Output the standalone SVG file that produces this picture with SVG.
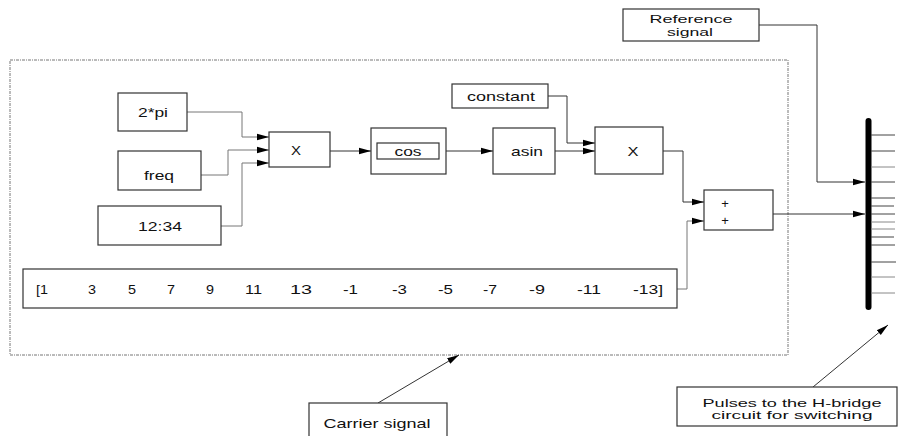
<svg xmlns="http://www.w3.org/2000/svg" width="898" height="436" viewBox="0 0 898 436">
<defs>
<marker id="ah" markerWidth="13" markerHeight="8" refX="12" refY="4" orient="auto" markerUnits="userSpaceOnUse">
<path d="M0,0.8 L12,4 L0,7.2 Z" fill="#000"/>
</marker>
<style>
.b{fill:#fff;stroke:#333;stroke-width:1.2}
.t{font-family:"Liberation Sans",Arial,sans-serif;font-size:13px;fill:#111;text-anchor:middle;dominant-baseline:central}
.s{font-size:11.5px}
.n{font-family:"Liberation Sans",Arial,sans-serif;font-size:13px;fill:#111;dominant-baseline:central}
.c{fill:none;stroke:#333;stroke-width:1}
.g{fill:none;stroke:#777;stroke-width:1}
.o{stroke:#444;stroke-width:1}
</style>
</defs>
<rect x="10" y="60" width="778" height="295" fill="none" stroke="#777" stroke-width="1" stroke-dasharray="3,1,1,1"/>
<g id="connectors">
<polyline class="g" points="187,112 242,112 242,137 269,137" marker-end="url(#ah)"/>
<polyline class="g" points="201,175 228,175 228,150 269,150" marker-end="url(#ah)"/>
<polyline class="g" points="221,226 242,226 242,163 269,163" marker-end="url(#ah)"/>
<polyline class="c" points="330,151 371,151" marker-end="url(#ah)"/>
<polyline class="c" points="446,151 493,151" marker-end="url(#ah)"/>
<polyline class="c" points="548,96 567,96 567,143 595,143" marker-end="url(#ah)"/>
<polyline class="c" points="555,151 595,151" marker-end="url(#ah)"/>
<polyline class="c" points="663,151 683,151 683,202 704,202" marker-end="url(#ah)"/>
<polyline class="g" points="677,289 687,289 687,221 704,221" marker-end="url(#ah)"/>
<polyline class="c" points="773,214 865,214" marker-end="url(#ah)"/>
<polyline class="c" points="759,25 817,25 817,182 865,182" marker-end="url(#ah)"/>
<line class="c" x1="378" y1="403" x2="459" y2="355" marker-end="url(#ah)"/>
<line class="c" x1="813" y1="387" x2="888" y2="325" marker-end="url(#ah)"/>
</g>
<g id="twopi"><rect class="b" x="118" y="93" width="69" height="38"/><text class="t" x="153" y="112" textLength="30" lengthAdjust="spacingAndGlyphs">2*pi</text></g>
<g id="freq"><rect class="b" x="118" y="151" width="83" height="39"/><text class="t" x="159" y="175" textLength="30" lengthAdjust="spacingAndGlyphs">freq</text></g>
<g id="range"><rect class="b" x="98" y="206" width="123" height="39"/><text class="t" x="160" y="226" textLength="44" lengthAdjust="spacingAndGlyphs">12:34</text></g>
<g id="mult1"><rect class="b" x="269" y="132" width="61" height="35"/><text class="t" x="296" y="150" textLength="10" lengthAdjust="spacingAndGlyphs">X</text></g>
<g id="cos"><rect class="b" x="371" y="128" width="75" height="46"/><rect class="b" x="377" y="143" width="62" height="16"/><text class="t" x="408" y="151" textLength="27" lengthAdjust="spacingAndGlyphs">cos</text></g>
<g id="asin"><rect class="b" x="493" y="128" width="62" height="46"/><text class="t" x="527" y="151" textLength="32" lengthAdjust="spacingAndGlyphs">asin</text></g>
<g id="constant"><rect class="b" x="452" y="84" width="96" height="24"/><text class="t" x="501" y="96" textLength="68" lengthAdjust="spacingAndGlyphs">constant</text></g>
<g id="mult2"><rect class="b" x="595" y="127" width="68" height="47"/><text class="t" x="633" y="151" textLength="11" lengthAdjust="spacingAndGlyphs">X</text></g>
<g id="sum"><rect class="b" x="704" y="190" width="69" height="40"/><text class="t" x="725" y="203">+</text><text class="t" x="725" y="220">+</text></g>
<g id="vector"><rect class="b" x="23" y="269" width="654" height="39"/>
<text class="n" x="36" y="289" textLength="12" lengthAdjust="spacingAndGlyphs">[1</text>
<text class="n" x="88" y="289" textLength="8" lengthAdjust="spacingAndGlyphs">3</text>
<text class="n" x="128" y="289" textLength="8" lengthAdjust="spacingAndGlyphs">5</text>
<text class="n" x="167" y="289" textLength="8" lengthAdjust="spacingAndGlyphs">7</text>
<text class="n" x="206" y="289" textLength="8" lengthAdjust="spacingAndGlyphs">9</text>
<text class="n" x="245" y="289" textLength="17" lengthAdjust="spacingAndGlyphs">11</text>
<text class="n" x="290" y="289" textLength="22" lengthAdjust="spacingAndGlyphs">13</text>
<text class="n" x="343" y="289" textLength="15" lengthAdjust="spacingAndGlyphs">-1</text>
<text class="n" x="392" y="289" textLength="15" lengthAdjust="spacingAndGlyphs">-3</text>
<text class="n" x="438" y="289" textLength="15" lengthAdjust="spacingAndGlyphs">-5</text>
<text class="n" x="483" y="289" textLength="14" lengthAdjust="spacingAndGlyphs">-7</text>
<text class="n" x="529" y="289" textLength="16" lengthAdjust="spacingAndGlyphs">-9</text>
<text class="n" x="577" y="289" textLength="24" lengthAdjust="spacingAndGlyphs">-11</text>
<text class="n" x="633" y="289" textLength="30" lengthAdjust="spacingAndGlyphs">-13]</text>
</g>
<g id="reference"><rect class="b" x="623" y="9" width="136" height="32"/><text class="t s" x="691" y="19" textLength="83" lengthAdjust="spacingAndGlyphs">Reference</text><text class="t s" x="690" y="31.5" textLength="46" lengthAdjust="spacingAndGlyphs">signal</text></g>
<g id="bus">
<line x1="868.5" y1="121" x2="868.5" y2="307" stroke="#000" stroke-width="6" stroke-linecap="round"/>
<g class="o">
<line x1="871" y1="135" x2="895" y2="135"/><line x1="871" y1="151" x2="895" y2="151"/><line x1="871" y1="167" x2="895" y2="167" stroke="#888"/><line x1="871" y1="182" x2="895" y2="182"/><line x1="871" y1="198" x2="895" y2="198"/><line x1="871" y1="206" x2="894" y2="206"/><line x1="871" y1="214" x2="895" y2="214"/><line x1="871" y1="222" x2="895" y2="222" stroke="#888"/><line x1="871" y1="229" x2="895" y2="229" stroke="#888"/><line x1="871" y1="237" x2="894" y2="237"/><line x1="871" y1="245" x2="895" y2="245"/><line x1="871" y1="262" x2="896" y2="262"/><line x1="871" y1="277" x2="895" y2="277" stroke="#888"/><line x1="871" y1="293" x2="895" y2="293" stroke="#888"/>
</g>
</g>
<g id="carrier"><rect class="b" x="309" y="403" width="138" height="40"/><text class="t" x="377" y="423" textLength="107" lengthAdjust="spacingAndGlyphs">Carrier signal</text></g>
<g id="pulses"><rect class="b" x="677" y="387" width="220" height="39"/><text class="t s" x="792" y="402.5" textLength="179" lengthAdjust="spacingAndGlyphs">Pulses to the H-bridge</text><text class="t s" x="792" y="415" textLength="161" lengthAdjust="spacingAndGlyphs">circuit for switching</text></g>
</svg>
